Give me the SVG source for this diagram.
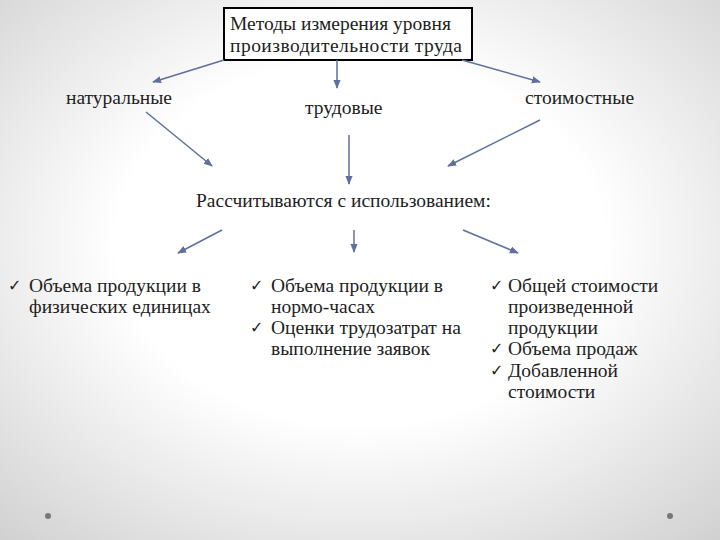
<svg xmlns="http://www.w3.org/2000/svg" width="720" height="540" viewBox="0 0 720 540">
<defs>
<radialGradient id="bg" cx="50%" cy="45%" r="75%">
<stop offset="0.45" stop-color="#ffffff"/><stop offset="1" stop-color="#d0d0d0"/>
</radialGradient>
<marker id="ah" viewBox="0 0 10 10" refX="9" refY="5" markerWidth="6" markerHeight="6" orient="auto"><path d="M0,1 L10,5 L0,9 z" fill="#5f6f9f"/></marker>
<style>
text{font-family:"Liberation Serif","DejaVu Serif",serif;font-size:19.5px;fill:#222}
.ck{font-family:"DejaVu Sans",sans-serif;font-size:16px}
.c{stroke:#5f6f9f;stroke-width:1.5;fill:none;marker-end:url(#ah)}
</style>
</defs>
<rect width="720" height="540" fill="url(#bg)"/>
<circle cx="48" cy="516" r="3" fill="#777"/><circle cx="670" cy="516" r="3" fill="#777"/>
<g id="top"><rect x="224" y="8" width="248" height="52" fill="#fff" stroke="#000" stroke-width="2"/>
<text x="230" y="30">Методы измерения уровня</text><text x="230" y="52" textLength="232">производительности труда</text></g>
<g id="nat"><text x="66" y="104">натуральные</text></g>
<g id="trud"><text x="305" y="114">трудовые</text></g>
<g id="stoim"><text x="525" y="104">стоимостные</text></g>
<g id="calc"><text x="196" y="207">Рассчитываются с использованием:</text></g>
<g id="list1"><text class="ck" x="8" y="291">✓</text><text x="29" y="292">Объема продукции в</text><text x="29" y="313">физических единицах</text></g>
<g id="list2"><text class="ck" x="250" y="291">✓</text><text x="271" y="292">Объема продукции в</text><text x="271" y="313">нормо-часах</text>
<text class="ck" x="250" y="333">✓</text><text x="271" y="334">Оценки трудозатрат на</text><text x="271" y="355">выполнение заявок</text></g>
<g id="list3"><text class="ck" x="490" y="291">✓</text><text x="508" y="292">Общей стоимости</text><text x="508" y="313">произведенной</text><text x="508" y="334">продукции</text>
<text class="ck" x="490" y="354">✓</text><text x="508" y="355">Объема продаж</text>
<text class="ck" x="490" y="376">✓</text><text x="508" y="377">Добавленной</text><text x="508" y="398">стоимости</text></g>
<g id="connectors">
<line class="c" x1="224" y1="60" x2="153" y2="82"/>
<line class="c" x1="337" y1="60" x2="337" y2="88"/>
<line class="c" x1="462" y1="60" x2="540" y2="82"/>
<line class="c" x1="146" y1="112" x2="212" y2="166"/>
<line class="c" x1="349" y1="135" x2="349" y2="184"/>
<line class="c" x1="540" y1="120" x2="448" y2="166"/>
<line class="c" x1="222" y1="230" x2="178" y2="253"/>
<line class="c" x1="354" y1="230" x2="354" y2="252"/>
<line class="c" x1="463" y1="230" x2="518" y2="253"/>
</g>
</svg>
